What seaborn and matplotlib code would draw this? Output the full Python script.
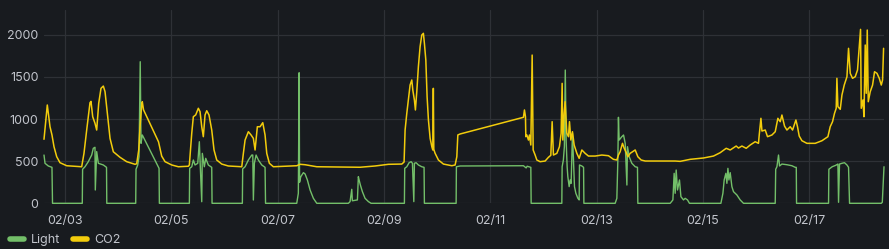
import numpy as np
import pandas as pd
import matplotlib
matplotlib.use("Agg")
import matplotlib.pyplot as plt
import matplotlib.dates as mdates
from matplotlib.lines import Line2D
import seaborn as sns

# time axis: days since 2025-02-02 00:00
co2_days = [0.605, 0.667, 0.718, 0.755, 0.793, 0.844, 0.906, 1.032, 1.314, 1.357,
            1.408, 1.470, 1.489, 1.521, 1.564, 1.596, 1.634, 1.677, 1.721, 1.753,
            1.803, 1.847, 1.909, 2.035, 2.161, 2.317, 2.349, 2.387, 2.411, 2.443,
            2.454, 2.477, 2.759, 2.819, 2.882, 3.008, 3.132, 3.320, 3.339, 3.384,
            3.414, 3.459, 3.508, 3.540, 3.572, 3.602, 3.634, 3.666, 3.709, 3.760,
            3.803, 3.854, 3.948, 4.072, 4.325, 4.355, 4.387, 4.449, 4.500, 4.543,
            4.575, 4.618, 4.669, 4.720, 4.763, 4.795, 4.844, 4.919, 5.359, 5.422,
            5.516, 5.736, 6.550, 6.833, 7.083, 7.335, 7.378, 7.397, 7.429, 7.459,
            7.491, 7.523, 7.542, 7.572, 7.591, 7.617, 7.647, 7.679, 7.711, 7.741,
            7.760, 7.787, 7.811, 7.836, 7.868, 7.900, 7.918, 7.928, 7.937, 7.962,
            8.024, 8.118, 8.276, 8.338, 8.370, 8.389, 8.432, 9.623, 9.642, 9.661,
            9.668, 9.687, 9.717, 9.736, 9.762, 9.787, 9.806, 9.843, 9.875, 9.937,
            10.031, 10.093, 10.138, 10.163, 10.187, 10.251, 10.300, 10.332, 10.351, 10.364,
            10.389, 10.407, 10.439, 10.470, 10.489, 10.515, 10.545, 10.577, 10.628, 10.671,
            10.722, 10.784, 10.846, 10.972, 11.098, 11.222, 11.316, 11.380, 11.410, 11.442,
            11.486, 11.518, 11.550, 11.587, 11.630, 11.693, 11.725, 11.775, 11.837, 11.913,
            12.477, 12.571, 12.759, 13.010, 13.198, 13.324, 13.437, 13.512, 13.625, 13.668,
            13.732, 13.813, 13.888, 13.982, 14.044, 14.058, 14.090, 14.109, 14.171, 14.214,
            14.297, 14.359, 14.391, 14.409, 14.453, 14.485, 14.534, 14.579, 14.641, 14.685,
            14.748, 14.778, 14.810, 14.861, 14.955, 15.111, 15.238, 15.350, 15.393, 15.437,
            15.474, 15.506, 15.519, 15.538, 15.582, 15.614, 15.657, 15.708, 15.738, 15.770,
            15.813, 15.864, 15.907, 15.964, 15.977, 16.009, 16.028, 16.052, 16.071, 16.090,
            16.109, 16.146, 16.190, 16.227, 16.273, 16.316, 16.354, 16.378, 16.397]
co2_ppm = [760, 1167, 909, 811, 672, 553, 482, 446, 434, 593,
           870, 1194, 1210, 1028, 950, 870, 1187, 1365, 1392, 1325,
           1028, 771, 612, 546, 494, 463, 470, 633, 909, 1167,
           1206, 1110, 730, 560, 494, 455, 434, 440, 455, 831,
           1028, 1050, 1128, 1088, 909, 791, 1048, 1099, 1048, 870,
           633, 514, 466, 443, 434, 593, 751, 850, 811, 771,
           633, 909, 909, 957, 811, 593, 475, 434, 446, 463,
           458, 434, 428, 443, 463, 466, 490, 870, 1068, 1226,
           1404, 1464, 1345, 1226, 1108, 1325, 1622, 1859, 1998, 2018,
           1900, 1701, 1265, 989, 771, 672, 633, 1365, 640, 593,
           514, 466, 446, 455, 553, 811, 823, 1021, 1108, 1029,
           791, 811, 751, 811, 692, 1760, 633, 573, 514, 494,
           502, 546, 570, 969, 573, 593, 672, 831, 1424, 751,
           1068, 1206, 831, 791, 969, 751, 850, 692, 593, 534,
           633, 593, 561, 561, 573, 565, 522, 514, 573, 612,
           712, 653, 612, 553, 593, 620, 633, 553, 514, 502,
           502, 498, 522, 538, 561, 601, 653, 633, 680, 656,
           680, 653, 692, 731, 712, 811, 1009, 858, 870, 791,
           811, 850, 950, 1009, 969, 1048, 917, 870, 909, 870,
           989, 909, 799, 743, 712, 712, 743, 791, 909, 969,
           1068, 1128, 1484, 1148, 1116, 1286, 1404, 1503, 1840, 1543,
           1484, 1503, 1583, 2065, 1128, 1227, 1028, 1879, 1306, 2057,
           1206, 1325, 1404, 1562, 1543, 1484, 1404, 1464, 1840]

light_days = [0.605, 0.624, 0.686, 0.755, 0.765, 1.325, 1.331, 1.376, 1.438, 1.502,
              1.532, 1.564, 1.570, 1.596, 1.627, 1.721, 1.781, 1.786, 2.330, 2.336,
              2.368, 2.392, 2.415, 2.430, 2.454, 2.769, 2.775, 3.339, 3.345, 3.384,
              3.414, 3.446, 3.497, 3.527, 3.540, 3.572, 3.583, 3.621, 3.647, 3.696,
              3.760, 3.766, 4.336, 4.342, 4.387, 4.449, 4.513, 4.532, 4.543, 4.562,
              4.594, 4.637, 4.701, 4.763, 4.772, 5.359, 5.389, 5.404, 5.412, 5.435,
              5.484, 5.516, 5.559, 5.610, 5.672, 5.736, 6.330, 6.362, 6.394, 6.405,
              6.500, 6.518, 6.532, 6.556, 6.594, 6.644, 6.707, 6.757, 7.384, 7.390,
              7.429, 7.472, 7.510, 7.535, 7.561, 7.572, 7.604, 7.647, 7.711, 7.754,
              7.760, 8.357, 8.362, 8.432, 9.623, 9.674, 9.693, 9.762, 9.768, 10.345,
              10.351, 10.374, 10.393, 10.410, 10.426, 10.445, 10.458, 10.483, 10.502, 10.520,
              10.545, 10.564, 10.583, 10.609, 10.647, 10.671, 10.677, 10.722, 10.754, 10.760,
              11.348, 11.380, 11.399, 11.410, 11.423, 11.474, 11.506, 11.537, 11.550, 11.569,
              11.580, 11.612, 11.662, 11.725, 11.768, 11.775, 12.383, 12.434, 12.458, 12.477,
              12.496, 12.521, 12.558, 12.585, 12.634, 12.665, 12.709, 12.746, 13.337, 13.375,
              13.399, 13.431, 13.450, 13.469, 13.488, 13.512, 13.544, 13.574, 13.638, 13.700,
              13.762, 14.359, 14.368, 14.391, 14.421, 14.440, 14.485, 14.579, 14.673, 14.735,
              14.755, 14.760, 15.362, 15.368, 15.430, 15.493, 15.538, 15.550, 15.568, 15.614,
              15.662, 15.708, 15.738, 15.757, 16.354, 16.373, 16.405]
light_lux = [573, 475, 443, 427, 0, 0, 404, 434, 494, 573,
             653, 665, 158, 614, 475, 455, 427, 0, 0, 404,
             455, 553, 1681, 712, 811, 415, 0, 0, 415, 434,
             514, 455, 475, 731, 514, 19, 593, 434, 534, 455,
             427, 0, 0, 408, 434, 514, 573, 573, 39, 475,
             573, 514, 455, 427, 0, 0, 119, 1550, 250, 316,
             364, 348, 277, 158, 59, 0, 0, 20, 166, 30,
             40, 316, 277, 217, 138, 59, 20, 0, 0, 415,
             434, 482, 494, 475, 20, 475, 482, 455, 434, 427,
             0, 0, 434, 443, 446, 420, 440, 427, 0, 0,
             434, 514, 672, 1582, 751, 434, 316, 198, 277, 237,
             831, 514, 198, 119, 59, 40, 455, 443, 427, 0,
             0, 59, 514, 1021, 751, 791, 811, 712, 514, 217,
             672, 553, 475, 434, 427, 0, 0, 40, 356, 119,
             395, 158, 277, 79, 40, 59, 40, 0, 0, 119,
             277, 356, 237, 415, 277, 364, 198, 138, 99, 40,
             0, 0, 404, 434, 573, 443, 466, 458, 446, 427,
             427, 0, 0, 404, 434, 450, 466, 12, 466, 475,
             482, 455, 427, 0, 0, 12, 434]

series_names = ["Light", "CO2"]
series_colors = ["#73BF69", "#F2CC0C"]
y_ticks = [0, 500, 1000, 1500, 2000]

base = pd.Timestamp("2025-02-02")
df_light = pd.DataFrame({"time": base + pd.to_timedelta(light_days, unit="D"), "value": light_lux})
df_co2 = pd.DataFrame({"time": base + pd.to_timedelta(co2_days, unit="D"), "value": co2_ppm})

bg = "#181b1f"
txt = "#c2c5cc"
sns.set_theme(style="dark")
plt.rcParams["font.family"] = ["Inter", "DejaVu Sans"]

fig = plt.figure(figsize=(8.89, 2.49), dpi=100, facecolor=bg)
ax = fig.add_axes([44 / 889, 1 - 203.3 / 249, 840 / 889, 193.3 / 249])
ax.set_facecolor(bg)

sns.lineplot(data=df_light, x="time", y="value", ax=ax, color=series_colors[0],
             linewidth=1.0, estimator=None, sort=False, clip_on=False)
sns.lineplot(data=df_co2, x="time", y="value", ax=ax, color=series_colors[1],
             linewidth=1.1, estimator=None, sort=False, clip_on=False)

ax.set_xlim(base + pd.Timedelta(days=0.605), base + pd.Timedelta(days=16.405))
ax.set_ylim(0, 2295)
ax.set_yticks(y_ticks)
ax.xaxis.set_major_locator(mdates.DayLocator(bymonthday=range(1, 32, 2)))
ax.xaxis.set_major_formatter(mdates.DateFormatter("%m/%d"))
ax.set_xlabel("")
ax.set_ylabel("")
ax.grid(True, color="#2e3136", linewidth=0.9)
ax.set_axisbelow(True)
for s in ax.spines.values():
    s.set_visible(False)
ax.tick_params(axis="both", length=0, colors=txt, labelsize=9)
ax.tick_params(axis="y", pad=4)
ax.tick_params(axis="x", pad=8.2)

handles = [Line2D([0], [0], color=c, lw=4, solid_capstyle="round") for c in series_colors]
fig.legend(handles, series_names, loc="lower left", bbox_to_anchor=(7 / 889, 0.0),
           ncol=2, frameon=False, fontsize=9, labelcolor=txt, handlelength=1.1,
           handletextpad=0.6, columnspacing=1.0, borderaxespad=0.05, borderpad=0.2)

fig.savefig("out.png", dpi=100, facecolor=bg)
